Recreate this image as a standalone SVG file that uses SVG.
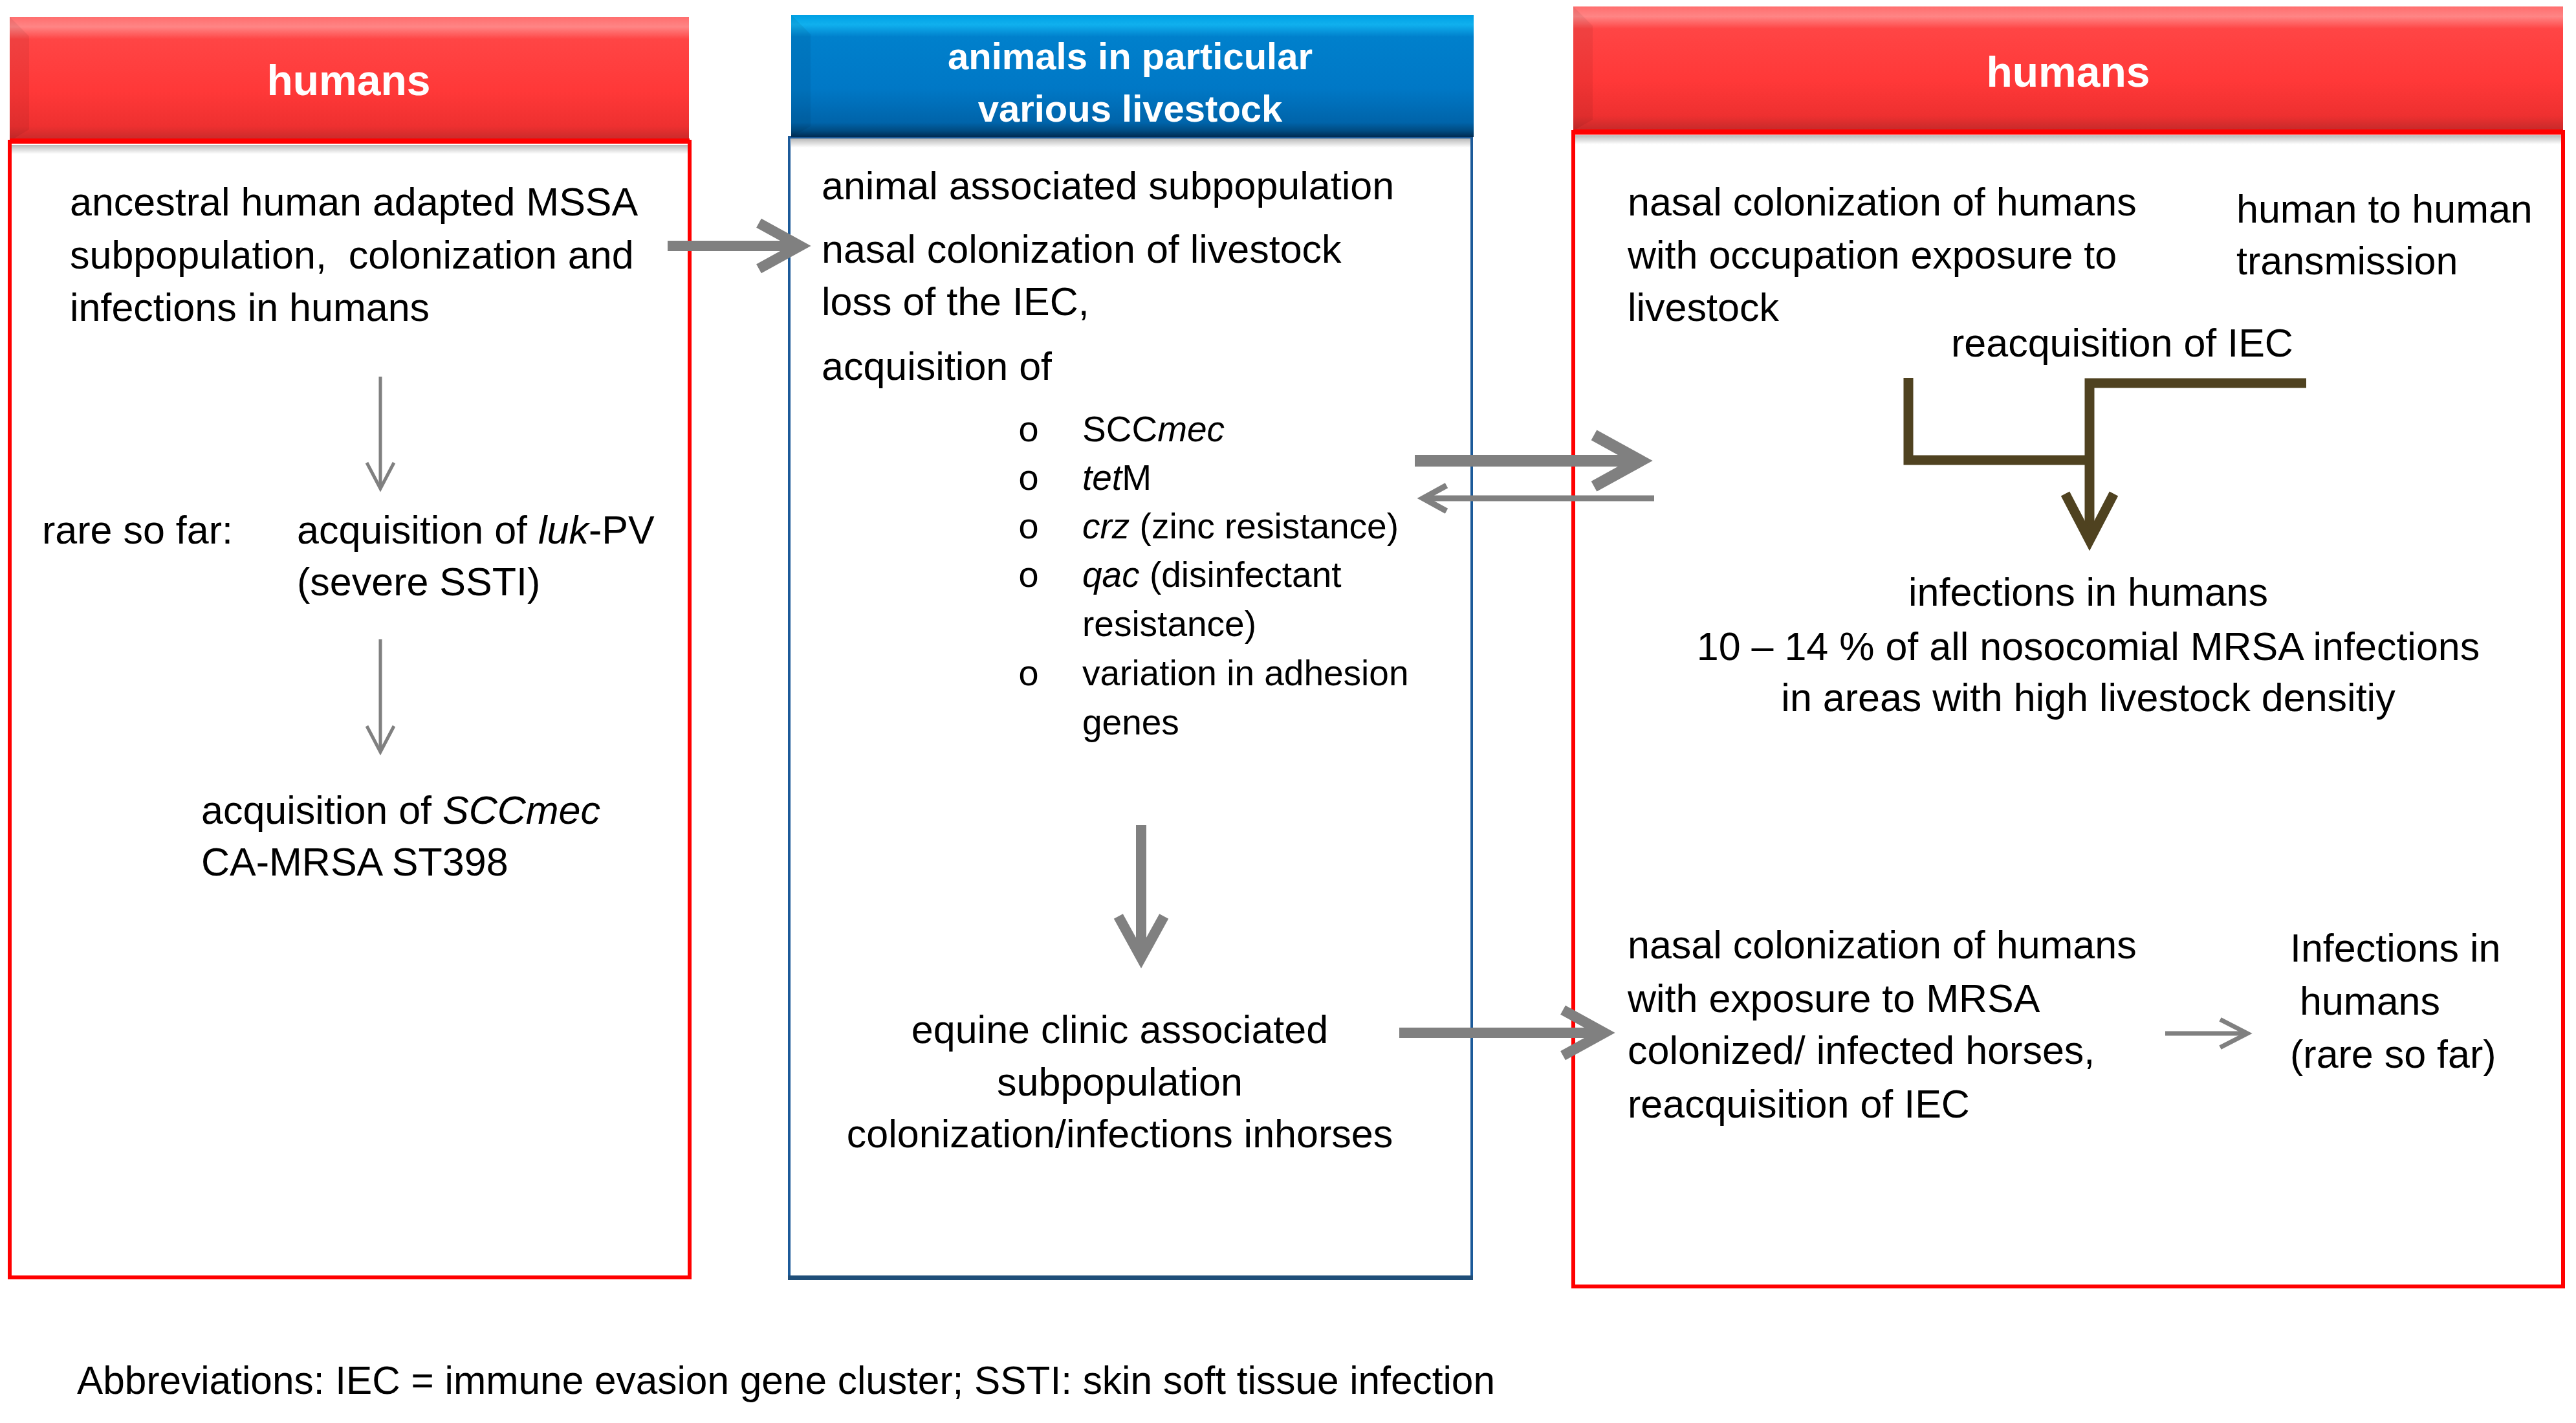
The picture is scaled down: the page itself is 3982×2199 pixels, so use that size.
<svg xmlns="http://www.w3.org/2000/svg" width="3982" height="2199" viewBox="0 0 3982 2199">
<style>
  text { font-family: "Liberation Sans", Arial, sans-serif; fill: #000; }
  .t { font-size: 61px; }
  .b { font-size: 55px; }
  .bul { font-family: "Liberation Mono", "Courier New", monospace; font-size: 56px; text-anchor: middle; }
  .hd { font-weight: bold; fill: #fff; text-anchor: middle; }
  .c { text-anchor: middle; }
  .i { font-style: italic; }
  .gray { fill: none; stroke: #808080; stroke-linejoin: miter; stroke-linecap: butt; }
  .brown { fill: none; stroke: #4F4220; stroke-linejoin: miter; stroke-linecap: butt; stroke-width: 15; }
  .redbody { fill: #fff; stroke: #FF0000; stroke-width: 6; }
  .bluebody { fill: #fff; stroke: #1C5A99; stroke-width: 4; }
</style>
<defs>
  <linearGradient id="gRed" x1="0" y1="0" x2="0" y2="1">
    <stop offset="0" stop-color="#FF6E6E"/>
    <stop offset="0.08" stop-color="#FF8585"/>
    <stop offset="0.18" stop-color="#FF4545"/>
    <stop offset="0.6" stop-color="#FF3838"/>
    <stop offset="0.88" stop-color="#EE3030"/>
    <stop offset="1" stop-color="#C42A2A"/>
  </linearGradient>
  <linearGradient id="gBlue" x1="0" y1="0" x2="0" y2="1">
    <stop offset="0" stop-color="#00A0E4"/>
    <stop offset="0.08" stop-color="#10B0EE"/>
    <stop offset="0.18" stop-color="#0080CC"/>
    <stop offset="0.6" stop-color="#0078C6"/>
    <stop offset="0.88" stop-color="#0064AA"/>
    <stop offset="0.95" stop-color="#004A80"/>
    <stop offset="1" stop-color="#002A50"/>
  </linearGradient>
  <linearGradient id="gShadow" x1="0" y1="0" x2="0" y2="1">
    <stop offset="0" stop-color="#000" stop-opacity="0.28"/>
    <stop offset="1" stop-color="#000" stop-opacity="0"/>
  </linearGradient>
  <marker id="chevA" markerUnits="strokeWidth" viewBox="-6 -4 8 8" refX="0" refY="0" markerWidth="8" markerHeight="8" orient="auto" overflow="visible">
    <path d="M-4,-2.2 L0,0 L-4,2.2" fill="none" stroke="#808080" stroke-width="1" stroke-linejoin="miter"/>
  </marker>
  <marker id="chevB" markerUnits="strokeWidth" viewBox="-10 -6 12 12" refX="0" refY="0" markerWidth="12" markerHeight="12" orient="auto" overflow="visible">
    <path d="M-8,-4.2 L0,0 L-8,4.2" fill="none" stroke="#808080" stroke-width="1" stroke-linejoin="miter"/>
  </marker>
  <marker id="chevC" markerUnits="strokeWidth" viewBox="-8 -5 10 10" refX="0" refY="0" markerWidth="10" markerHeight="10" orient="auto" overflow="visible">
    <path d="M-6,-3.1 L0,0 L-6,3.1" fill="none" stroke="#808080" stroke-width="1" stroke-linejoin="miter"/>
  </marker>
  <marker id="chevBrown" markerUnits="strokeWidth" viewBox="-7 -4 9 8" refX="0" refY="0" markerWidth="9" markerHeight="8" orient="auto" overflow="visible">
    <path d="M-4.8,-2.5 L0,0 L-4.8,2.5" fill="none" stroke="#4F4220" stroke-width="1" stroke-linejoin="miter"/>
  </marker>
</defs>
<rect x="0" y="0" width="3982" height="2199" fill="#fff"/>

<!-- Left: humans -->
<g id="node-humans-left">
  <rect class="redbody" x="15" y="219" width="1051" height="1755"/>
  <rect x="18" y="224" width="1045" height="14" fill="url(#gShadow)"/>
  <rect x="15" y="26" width="1050" height="192" fill="url(#gRed)"/>
  <path d="M15,26 L45,56 L45,200 L15,218 Z" fill="#000" opacity="0.06"/>
  <rect x="15" y="214" width="1051" height="8" fill="#FF0000"/>
  <text class="hd" x="539" y="147" font-size="66">humans</text>
  <text class="t" x="108" y="333">ancestral human adapted MSSA</text>
  <text class="t" x="108" y="415" xml:space="preserve">subpopulation,  colonization and</text>
  <text class="t" x="108" y="496">infections in humans</text>
  <text class="t" x="65" y="840">rare so far:</text>
  <text class="t" x="459" y="840">acquisition of <tspan class="i">luk</tspan>-PV</text>
  <text class="t" x="459" y="920">(severe SSTI)</text>
  <text class="t" x="311" y="1273">acquisition of <tspan class="i">SCCmec</tspan></text>
  <text class="t" x="311" y="1353">CA-MRSA ST398</text>
</g>

<!-- Middle: animals -->
<g id="node-animals">
  <rect class="bluebody" x="1220" y="212" width="1055" height="1763"/>
  <rect x="1218" y="1971" width="1059" height="7" fill="#1F4E79"/>
  <rect x="1223" y="214" width="1050" height="14" fill="url(#gShadow)"/>
  <rect x="1223" y="23" width="1055" height="189" fill="url(#gBlue)"/>
  <path d="M1223,23 L1253,53 L1253,195 L1223,212 Z" fill="#000" opacity="0.06"/>
  <text class="hd" x="1747" y="107" font-size="58">animals in particular</text>
  <text class="hd" x="1747" y="188" font-size="58">various livestock</text>
  <text class="t" x="1270" y="308">animal associated subpopulation</text>
  <text class="t" x="1270" y="406">nasal colonization of livestock</text>
  <text class="t" x="1270" y="487">loss of the IEC,</text>
  <text class="t" x="1270" y="587">acquisition of</text>
  <text class="bul" x="1590" y="682">o</text>
  <text class="b" x="1673" y="682">SCC<tspan class="i">mec</tspan></text>
  <text class="bul" x="1590" y="757">o</text>
  <text class="b" x="1673" y="757"><tspan class="i">tet</tspan>M</text>
  <text class="bul" x="1590" y="832">o</text>
  <text class="b" x="1673" y="832"><tspan class="i">crz</tspan> (zinc resistance)</text>
  <text class="bul" x="1590" y="907">o</text>
  <text class="b" x="1673" y="907"><tspan class="i">qac</tspan> (disinfectant</text>
  <text class="b" x="1673" y="983">resistance)</text>
  <text class="bul" x="1590" y="1059">o</text>
  <text class="b" x="1673" y="1059">variation in adhesion</text>
  <text class="b" x="1673" y="1135">genes</text>
  <text class="t c" x="1731" y="1612">equine clinic associated</text>
  <text class="t c" x="1731" y="1693">subpopulation</text>
  <text class="t c" x="1731" y="1773">colonization/infections inhorses</text>
</g>

<!-- Right: humans -->
<g id="node-humans-right">
  <rect class="redbody" x="2432" y="204" width="1530" height="1784"/>
  <rect x="2435" y="209" width="1524" height="14" fill="url(#gShadow)"/>
  <rect x="2432" y="10" width="1530" height="192" fill="url(#gRed)"/>
  <path d="M2432,10 L2462,40 L2462,185 L2432,202 Z" fill="#000" opacity="0.06"/>
  <rect x="2432" y="200" width="1530" height="8" fill="#FF0000"/>
  <text class="hd" x="3197" y="134" font-size="66">humans</text>
  <text class="t" x="2516" y="333">nasal colonization of humans</text>
  <text class="t" x="2516" y="415">with occupation exposure to</text>
  <text class="t" x="2516" y="496">livestock</text>
  <text class="t" x="3457" y="344">human to human</text>
  <text class="t" x="3457" y="424">transmission</text>
  <text class="t" x="3016" y="551">reacquisition of IEC</text>
  <text class="t c" x="3228" y="936">infections in humans</text>
  <text class="t c" x="3228" y="1020">10 – 14 % of all nosocomial MRSA infections</text>
  <text class="t c" x="3228" y="1099">in areas with high livestock densitiy</text>
  <text class="t" x="2516" y="1481">nasal colonization of humans</text>
  <text class="t" x="2516" y="1564">with exposure to MRSA</text>
  <text class="t" x="2516" y="1644">colonized/ infected horses,</text>
  <text class="t" x="2516" y="1727">reacquisition of IEC</text>
  <text class="t" x="3540" y="1486">Infections in</text>
  <text class="t" x="3555" y="1568">humans</text>
  <text class="t" x="3540" y="1650">(rare so far)</text>
</g>

<!-- Footnote -->
<g id="node-abbreviations">
  <text class="t" x="119" y="2154" textLength="2192" lengthAdjust="spacingAndGlyphs">Abbreviations: IEC = immune evasion gene cluster; SSTI: skin soft tissue infection</text>
</g>

<!-- Connectors -->
<g id="connectors">
  <line class="gray" x1="588" y1="582" x2="588" y2="755" stroke-width="5" marker-end="url(#chevB)"/>
  <line class="gray" x1="588" y1="988" x2="588" y2="1162" stroke-width="5" marker-end="url(#chevB)"/>
  <line class="gray" x1="1032" y1="380" x2="1237" y2="380" stroke-width="16" marker-end="url(#chevA)"/>
  <line class="gray" x1="2187" y1="712" x2="2536" y2="712" stroke-width="18" marker-end="url(#chevA)"/>
  <line class="gray" x1="2557" y1="770" x2="2200" y2="770" stroke-width="9" marker-end="url(#chevA)"/>
  <line class="gray" x1="1764" y1="1275" x2="1764" y2="1480" stroke-width="16" marker-end="url(#chevA)"/>
  <line class="gray" x1="2163" y1="1596" x2="2480" y2="1596" stroke-width="16" marker-end="url(#chevA)"/>
  <line class="gray" x1="3347" y1="1597" x2="3474" y2="1597" stroke-width="7" marker-end="url(#chevC)"/>
  <path class="brown" d="M2950,584 V711 H3237"/>
  <path class="brown" d="M3565,592 H3230 V835" marker-end="url(#chevBrown)"/>
</g>
</svg>
